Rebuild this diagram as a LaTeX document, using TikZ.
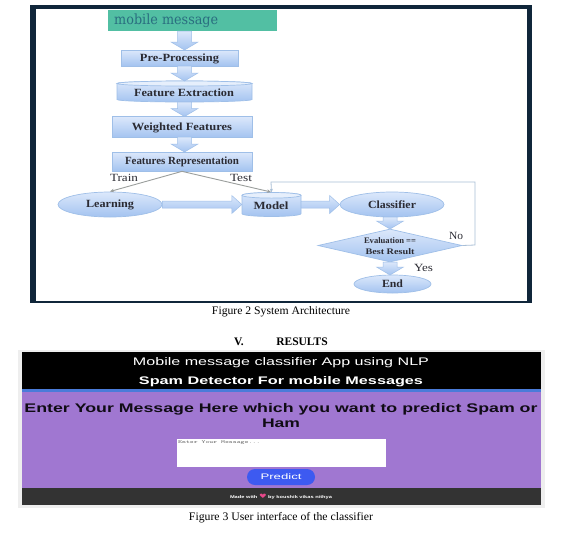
\documentclass[tikz,border=0pt]{standalone}
\usepackage{graphicx}
\usepackage{fontspec}
\setmainfont{Liberation Serif}
\setsansfont{Liberation Sans}
\newfontfamily\dejavu{DejaVu Sans}
\newfontfamily\dejavuserif{DejaVu Serif}
\usetikzlibrary{shapes.geometric,calc,arrows.meta}
\definecolor{framedark}{HTML}{10263A}
\definecolor{tealbar}{HTML}{52BFA3}
\definecolor{tealtext}{HTML}{2A6E80}
\definecolor{boxtop}{HTML}{DCE8FB}
\definecolor{boxbot}{HTML}{A3C3F0}
\definecolor{boxline}{HTML}{9FBFE8}
\definecolor{captop}{HTML}{E6EFFC}
\definecolor{inklabel}{HTML}{2B2B33}
\definecolor{grayline}{HTML}{9A9E9C}
\definecolor{fbline}{HTML}{A9BFD6}
\definecolor{shotbg}{HTML}{EEEEEE}
\definecolor{stripe}{HTML}{4A7BD9}
\definecolor{purplebg}{HTML}{A077D1}
\definecolor{footbg}{HTML}{333333}
\definecolor{btnblue}{HTML}{3D5AF1}
\definecolor{heartpink}{HTML}{E8488A}
\newcommand\fitw[2]{\resizebox{#1pt}{\height}{#2}}
\newcommand\lab[2]{\fitw{#1}{\bfseries\fontsize{11}{13}\selectfont #2}}
% block arrows, from node anchor to node anchor
\newcommand\downblock[2]{\path let \p1=(#1), \p2=(#2) in [blockarrow]
  (\x1-7pt,\y1) -- (\x1+7pt,\y1) -- (\x1+7pt,\y2+8pt) -- (\x1+13.5pt,\y2+8pt) -- (\x1,\y2) -- (\x1-13.5pt,\y2+8pt) -- (\x1-7pt,\y2+8pt) -- cycle;}
\newcommand\rightblock[2]{\path let \p1=(#1), \p2=(#2) in [blockarrow]
  (\x1,\y1+3.5pt) -- (\x2-10pt,\y1+3.5pt) -- (\x2-10pt,\y1+9pt) -- (\x2,\y1) -- (\x2-10pt,\y1-9pt) -- (\x2-10pt,\y1-3.5pt) -- (\x1,\y1-3.5pt) -- cycle;}
% drum: centre x, top y, bottom y, half width, end curve height
\newcommand\drum[5]{%
  \path[flowbase] (#1-#4,#2+#5) -- (#1-#4,#3-#5) arc[start angle=180,end angle=0,x radius=#4,y radius=#5]
    -- (#1+#4,#2+#5) arc[start angle=0,end angle=-180,x radius=#4,y radius=#5] -- cycle;
  \path[draw=boxline,line width=0.7pt,fill=captop] (#1,#2+#5) ellipse [x radius=#4,y radius=#5];}
\tikzset{
  blockarrow/.style={draw=boxline,line width=0.5pt,top color=boxtop,bottom color=boxbot},
  flowbase/.style={draw=boxline,line width=0.7pt,top color=boxtop,bottom color=boxbot,inner sep=0pt,text=inklabel},
  flowbox/.style={flowbase,rectangle},
  flowell/.style={flowbase,ellipse},
  flowdia/.style={flowbase,diamond,aspect=4.3},
  anchorbox/.style={rectangle,inner sep=0pt,text=inklabel},
  capt/.style={inner sep=0pt,text=black,font=\fontsize{11.5}{13}\selectfont},
  headtext/.style={inner sep=0pt,text=black,font=\bfseries\fontsize{11.5}{13}\selectfont},
  shottext/.style={inner sep=0pt,font=\sffamily\bfseries},
  edgelabel/.style={inner sep=0pt,text=inklabel,font=\fontsize{11}{13}\selectfont},
  thinline/.style={draw=grayline,line width=0.9pt,-{Stealth[length=4pt,width=3.5pt]}},
  fbarrow/.style={draw=fbline,line width=0.8pt,-{Stealth[length=3.5pt,width=3pt]}}
}
\begin{document}
\begin{tikzpicture}[x=1pt,y=-1pt]
\useasboundingbox (0,0) rectangle (580,536);
\fill[white] (0,0) rectangle (580,536);
% top figure frame
\fill[framedark] (30,5) rectangle (532,303);
\fill[white] (36,9) rectangle (527,301);
\node[fill=tealbar,minimum width=169pt,minimum height=21pt,inner sep=0pt] (mm) at (192.5,20.5) {};
\node[inner sep=0pt,anchor=west,text=tealtext] (mmt) at (114,21) {\fitw{104}{\dejavuserif\fontsize{14}{16}\selectfont mobile message}};
\node[flowbox,minimum width=117pt,minimum height=16pt] (pre) at (179.5,58) {};
\node[anchorbox] (pret) at (179.5,58.5) {\lab{79}{Pre-Processing}};
\drum{184.5}{81}{102}{67.5}{2.5}
\node[anchorbox,minimum width=135pt,minimum height=21pt] (fe) at (184.5,91.5) {};
\node[anchorbox] (fet) at (184,93) {\lab{100}{Feature Extraction}};
\node[flowbox,minimum width=140pt,minimum height=21pt] (wf) at (182,127) {};
\node[anchorbox] (wft) at (182,127.5) {\lab{100}{Weighted Features}};
\node[flowbox,minimum width=140pt,minimum height=19pt] (fr) at (182,161.5) {};
\node[anchorbox] (frt) at (182,161.5) {\lab{114}{Features Representation}};
\node[flowell,minimum width=104pt,minimum height=25pt] (learn) at (110,204.5) {};
\node[anchorbox] (learnt) at (110,204.5) {\lab{48}{Learning}};
\drum{271.5}{192.5}{216.5}{29.5}{2.8}
\node[anchorbox,minimum width=59pt,minimum height=24pt] (model) at (271.5,204.5) {};
\node[anchorbox] (modelt) at (271,206) {\lab{35}{Model}};
\node[flowell,minimum width=104pt,minimum height=25pt] (clf) at (392,204.5) {\lab{48}{Classifier}};
\node[flowdia,minimum width=144pt,minimum height=33pt] (eval) at (390,245.5) {};
\node[inner sep=0pt,text=inklabel,align=center] (evalt) at (390,246) {\fitw{52}{\bfseries\fontsize{8.5}{9}\selectfont Evaluation ==}\\[-0.5pt]\fitw{49}{\bfseries\fontsize{8.5}{9}\selectfont Best Result}};
\node[flowell,minimum width=77pt,minimum height=18pt] (endn) at (392.5,284) {\lab{21}{End}};
% block arrows
\coordinate (a1) at (184.5,31); \coordinate (b1) at (184.5,50);
\coordinate (a2) at (184.5,66); \coordinate (b2) at (184.5,81);
\coordinate (a3) at (184.5,102); \coordinate (b3) at (184.5,116.5);
\coordinate (a4) at (184.5,137); \coordinate (b4) at (184.5,152);
\downblock{a1}{b1}\downblock{a2}{b2}\downblock{a3}{b3}\downblock{a4}{b4}
\coordinate (c1) at (390,217); \coordinate (d1) at (390,229);
\coordinate (c2) at (390,262); \coordinate (d2) at (390,275);
\downblock{c1}{d1}\downblock{c2}{d2}
\rightblock{learn.east}{model.west}
\rightblock{model.east}{clf.west}
% thin connectors
\draw[thinline] (fr.south) -- (110,191.5) coordinate (tlearn);
\draw[thinline] (fr.south) -- (271,192) coordinate (tmodel);
\coordinate (fb1) at (475,245);
\coordinate (fb2) at (475,182);
\coordinate (fb3) at (271,182);
\draw[fbarrow] (eval.east) -- (fb1) -- (fb2) -- (fb3) -- (model.north);
% flow labels
\node[edgelabel] (ltrain) at (124,178) {\fitw{28}{Train}};
\node[edgelabel] (ltest) at (241,178) {\fitw{22}{Test}};
\node[edgelabel] (lno) at (456,236) {\fitw{14}{No}};
\node[edgelabel] (lyes) at (423.5,267.5) {\fitw{19}{Yes}};
% captions
\node[capt] (cap2) at (281,312) {\fitw{138}{Figure 2 System Architecture}};
\node[headtext] (hv) at (239,342) {V.};
\node[headtext] (hres) at (302,342) {RESULTS};
\node[capt] (cap3) at (281,517.5) {\fitw{184}{Figure 3 User interface of the classifier}};
% screenshot
\fill[shotbg] (18,350) rectangle (545,508);
\fill[black] (22,352) rectangle (541,389);
\fill[stripe] (22,389) rectangle (541,392);
\fill[purplebg] (22,392) rectangle (541,488);
\fill[footbg] (22,488) rectangle (541,505);
\node[shottext,text=white,font=\sffamily] (t1) at (281,362.5) {\fitw{296}{\fontsize{11}{13}\selectfont Mobile message classifier App using NLP}};
\node[shottext,text=white] (t2) at (281,382) {\fitw{284}{\fontsize{11}{13}\selectfont Spam Detector For mobile Messages}};
\node[shottext,text=black!90!purplebg] (t3) at (281,409) {\fitw{513}{\fontsize{12.5}{14}\selectfont Enter Your Message Here which you want to predict Spam or}};
\node[shottext,text=black!90!purplebg] (t4) at (281,423) {\fitw{38}{\fontsize{12.5}{14}\selectfont Ham}};
\node[fill=white,minimum width=209pt,minimum height=28pt,inner sep=0pt] (ta) at (281.5,453) {};
\node[inner sep=0pt,anchor=west,text=black!60,font=\ttfamily] (ph) at (178,442.5) {\fitw{82}{\fontsize{4.5}{5}\selectfont Enter Your Message...}};
\node[fill=btnblue,rounded corners=8pt,minimum width=68pt,minimum height=16pt,inner sep=0pt,text=white,font=\sffamily] (btn) at (281,477) {\fitw{41}{\fontsize{8}{9}\selectfont Predict}};
\node[inner sep=0pt,text=white,font=\sffamily\bfseries] (foot) at (281,497) {\fitw{102}{\fontsize{4}{5}\selectfont Made with {\textcolor{heartpink}{\dejavu\fontsize{6}{5}\selectfont ♥}} by koushik vikas nithya}};
\end{tikzpicture}
\end{document}
